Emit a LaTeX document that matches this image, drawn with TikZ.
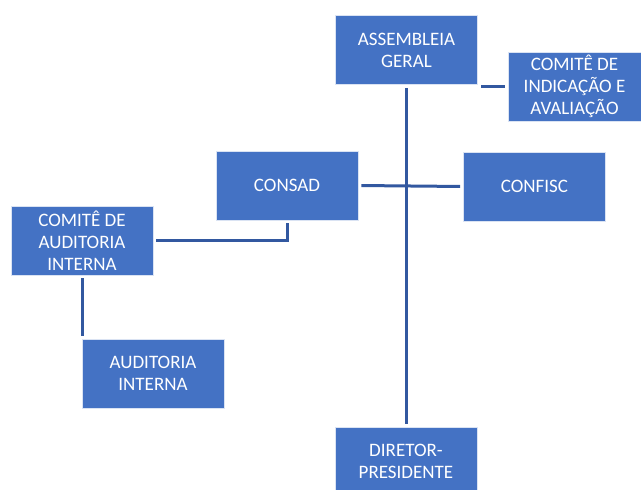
\documentclass[tikz,border=0pt]{standalone}
\usepackage{fontspec}
\setmainfont{Carlito}
\usepackage{xcolor}
\definecolor{boxblue}{RGB}{68,114,196}
\definecolor{lineblue}{RGB}{50,88,160}

\begin{document}
\begin{tikzpicture}[x=1pt,y=-1pt,line width=3pt,
  unit/.style={rectangle,fill=boxblue,draw=white!80!boxblue,line width=0.6pt,
    minimum width=142pt,minimum height=69pt,inner sep=2pt,align=center,
    text=white,font=\fontsize{19}{22}\selectfont},
  link/.style={draw=lineblue,shorten <=3pt,shorten >=3pt}]
  \clip (0,0) rectangle (641,490);
  \useasboundingbox (0,0) rectangle (641,490);

  \node[unit]                         (AG)      at (406.5,50)    {ASSEMBLEIA\\GERAL};
  \node[unit,minimum width=133pt]     (CIA)     at (574.5,86.5)  {COMITÊ DE\\INDICAÇÃO E\\AVALIAÇÃO};
  \node[unit]                         (CONSAD)  at (287,185.5)   {CONSAD};
  \node[unit]                         (CONFISC) at (534.5,186.5) {CONFISC};
  \node[unit]                         (CAI)     at (82,240.5)    {COMITÊ DE\\AUDITORIA\\INTERNA};
  \node[unit]                         (AI)      at (153,373.5)   {AUDITORIA\\INTERNA};
  \node[unit]                         (DP)      at (406,461.5)   {DIRETOR-\\PRESIDENTE};

  \path[link] (AG.south) -- (AG.south |- DP.north);
  \path[link] (CIA.west) -- (AG.east |- CIA.west);
  \path[link] (CONSAD.east) -- (CONFISC.west);
  \path[link] (CAI.east) -| (CONSAD.south);
  \path[link] (CAI.south) -- (CAI.south |- AI.north);
\end{tikzpicture}
\end{document}
